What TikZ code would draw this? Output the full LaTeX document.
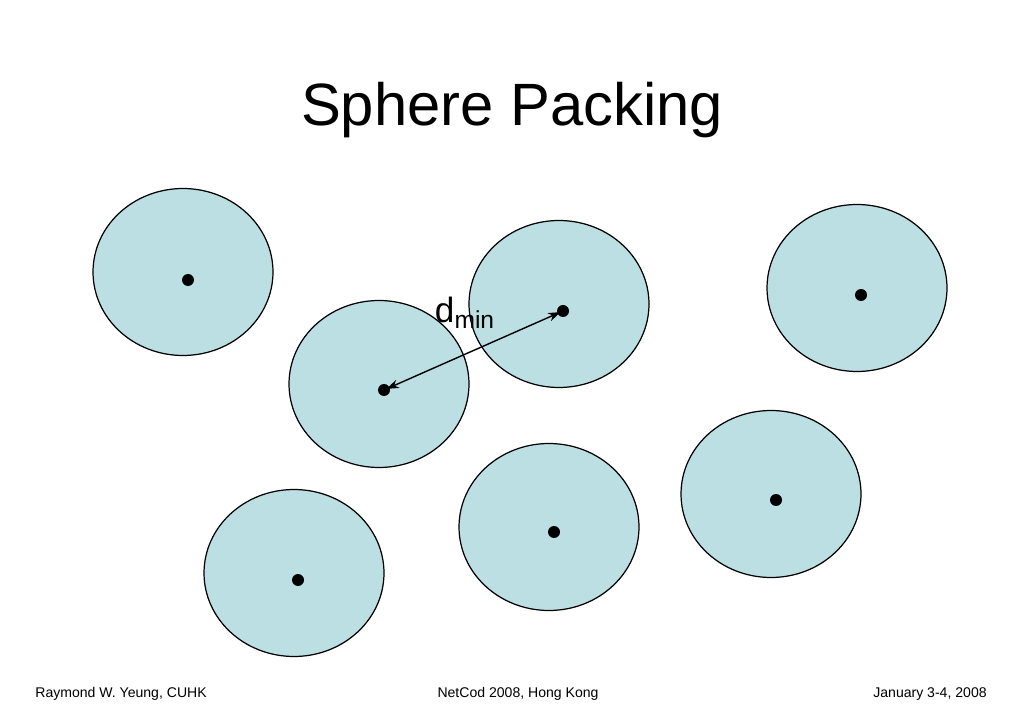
\documentclass[tikz,border=0pt]{standalone}
\usepackage{fontspec}
\setmainfont{Liberation Sans}
\usetikzlibrary{shapes.geometric,arrows.meta}
\definecolor{ballblue}{RGB}{187,223,227}
\tikzset{
  ball/.style={draw, line width=0.7pt, ellipse, fill=ballblue, minimum width=3.6cm, minimum height=3.34cm, inner sep=0pt},
  centre/.style={circle, fill=black, inner sep=0pt, minimum size=0.24cm},
  footer/.style={font=\fontsize{8}{9.6}\selectfont, inner sep=0pt}
}
\begin{document}
\begin{tikzpicture}[x=0.02cm, y=-0.02cm]
        \useasboundingbox (0,0) rectangle (1024,712);
        % Title
        \node[font=\fontsize{34}{40}\selectfont] (title) at (512,110) {Sphere Packing};

        % Spheres
        \node[ball] (b1) at (183,272) {};
        \node[ball] (b2) at (559,304) {};
        \node[ball] (b3) at (857,288) {};
        \node[ball] (b4) at (379,384) {};
        \node[ball] (b5) at (771,494) {};
        \node[ball] (b6) at (549,527) {};
        \node[ball] (b7) at (294,573) {};

        % Centres
        \node[centre] (c1) at (188,280) {};
        \node[centre] (c2) at (563,311) {};
        \node[centre] (c3) at (861,295) {};
        \node[centre] (c4) at (384,390) {};
        \node[centre] (c5) at (776,500) {};
        \node[centre] (c6) at (554,532) {};
        \node[centre] (c7) at (298,580) {};

        % Minimum distance
        \draw[{Stealth[length=7pt,width=5pt]}-{Stealth[length=7pt,width=5pt]}, line width=0.8pt, shorten <=-2pt, shorten >=-2pt] (c4) -- (c2);
        \node[font=\fontsize{20}{24}\selectfont, inner sep=0pt] (dmin) at (465,313) {d\textsubscript{min}};

        % Footer
        \node[footer, anchor=west] (author) at (35,694) {Raymond W. Yeung, CUHK};
        \node[footer] (venue) at (518,694) {NetCod 2008, Hong Kong};
        \node[footer, anchor=east] (date) at (987,694) {January 3-4, 2008};
    \end{tikzpicture}
\end{document}
